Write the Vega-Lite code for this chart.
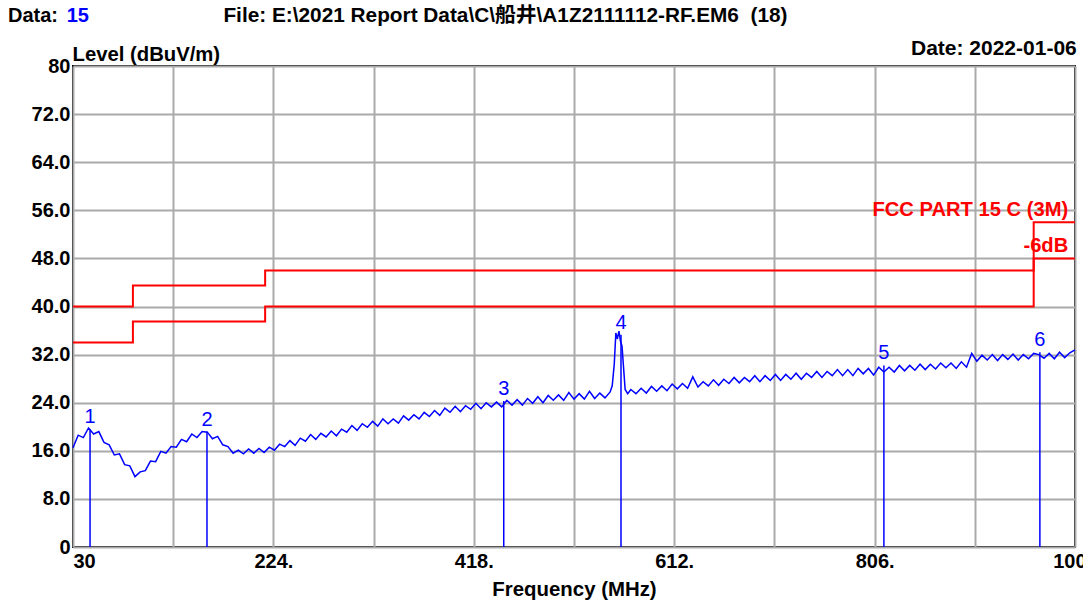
{
  "$schema": "https://vega.github.io/schema/vega-lite/v6.json",
  "width": 1002,
  "height": 481,
  "autosize": "none",
  "padding": {"left": 73, "top": 66, "right": 8, "bottom": 58},
  "background": "white",
  "config": {
    "view": {"stroke": "#000000", "strokeWidth": 2},
    "font": "Liberation Sans"
  },
  "datasets": {
    "trace": [
      {"freq": 30, "level": 16.5}, {"freq": 35, "level": 18.6}, {"freq": 40, "level": 18.2}, {"freq": 45, "level": 19.8},
      {"freq": 50, "level": 18.8}, {"freq": 55, "level": 19.2}, {"freq": 60, "level": 17.4}, {"freq": 65, "level": 17.0},
      {"freq": 70, "level": 15.3}, {"freq": 75, "level": 15.5}, {"freq": 80, "level": 13.7}, {"freq": 85, "level": 13.5},
      {"freq": 90, "level": 11.7}, {"freq": 95, "level": 12.5}, {"freq": 100, "level": 12.7}, {"freq": 105, "level": 14.3},
      {"freq": 110, "level": 14.2}, {"freq": 115, "level": 15.9}, {"freq": 120, "level": 15.6}, {"freq": 125, "level": 16.7},
      {"freq": 130, "level": 16.6}, {"freq": 135, "level": 17.9}, {"freq": 140, "level": 17.5}, {"freq": 145, "level": 18.8},
      {"freq": 150, "level": 18.2}, {"freq": 155, "level": 19.2}, {"freq": 160, "level": 19.1}, {"freq": 165, "level": 18.0},
      {"freq": 170, "level": 18.4}, {"freq": 175, "level": 17.0}, {"freq": 180, "level": 16.7}, {"freq": 185, "level": 15.6},
      {"freq": 190, "level": 16.1}, {"freq": 195, "level": 15.5}, {"freq": 200, "level": 16.3}, {"freq": 205, "level": 15.6},
      {"freq": 210, "level": 16.4}, {"freq": 215, "level": 15.7}, {"freq": 220, "level": 16.6}, {"freq": 225, "level": 16.1},
      {"freq": 230, "level": 17.1}, {"freq": 235, "level": 16.7}, {"freq": 240, "level": 17.7}, {"freq": 245, "level": 16.9},
      {"freq": 250, "level": 18.1}, {"freq": 255, "level": 17.6}, {"freq": 260, "level": 18.7}, {"freq": 265, "level": 17.9},
      {"freq": 270, "level": 18.9}, {"freq": 275, "level": 18.3}, {"freq": 280, "level": 19.3}, {"freq": 285, "level": 18.5},
      {"freq": 290, "level": 19.6}, {"freq": 295, "level": 19.1}, {"freq": 300, "level": 20.2}, {"freq": 305, "level": 19.4},
      {"freq": 310, "level": 20.5}, {"freq": 315, "level": 19.9}, {"freq": 320, "level": 20.9}, {"freq": 325, "level": 20.1},
      {"freq": 330, "level": 21.3}, {"freq": 335, "level": 20.5}, {"freq": 340, "level": 21.3}, {"freq": 345, "level": 20.6},
      {"freq": 350, "level": 21.8}, {"freq": 355, "level": 21.1}, {"freq": 360, "level": 22.0}, {"freq": 365, "level": 21.3},
      {"freq": 370, "level": 22.4}, {"freq": 375, "level": 21.7}, {"freq": 380, "level": 22.7}, {"freq": 385, "level": 21.9},
      {"freq": 390, "level": 23.1}, {"freq": 395, "level": 22.4}, {"freq": 400, "level": 23.4}, {"freq": 405, "level": 22.5},
      {"freq": 410, "level": 23.5}, {"freq": 415, "level": 22.9}, {"freq": 420, "level": 23.9}, {"freq": 425, "level": 23.0},
      {"freq": 430, "level": 24.0}, {"freq": 435, "level": 23.3}, {"freq": 440, "level": 24.1}, {"freq": 445, "level": 23.3},
      {"freq": 450, "level": 24.4}, {"freq": 455, "level": 23.6}, {"freq": 460, "level": 24.5}, {"freq": 465, "level": 23.6},
      {"freq": 470, "level": 24.7}, {"freq": 475, "level": 23.9}, {"freq": 480, "level": 25.0}, {"freq": 485, "level": 24.0},
      {"freq": 490, "level": 25.2}, {"freq": 495, "level": 24.4}, {"freq": 500, "level": 25.3}, {"freq": 505, "level": 24.4},
      {"freq": 510, "level": 25.7}, {"freq": 515, "level": 24.6}, {"freq": 520, "level": 25.5}, {"freq": 525, "level": 24.6},
      {"freq": 530, "level": 25.9}, {"freq": 535, "level": 24.7}, {"freq": 540, "level": 25.6}, {"freq": 545, "level": 24.8},
      {"freq": 550, "level": 25.8}, {"freq": 552, "level": 26.8}, {"freq": 554, "level": 30.5}, {"freq": 555.5, "level": 35.6},
      {"freq": 557, "level": 34.6}, {"freq": 558.5, "level": 35.9}, {"freq": 560, "level": 34.2}, {"freq": 561.5, "level": 33.4},
      {"freq": 563, "level": 29.8}, {"freq": 564.5, "level": 26.2}, {"freq": 567, "level": 25.5}, {"freq": 570, "level": 26.2},
      {"freq": 575, "level": 25.5}, {"freq": 580, "level": 26.4}, {"freq": 585, "level": 25.6}, {"freq": 590, "level": 26.7},
      {"freq": 595, "level": 25.9}, {"freq": 600, "level": 26.8}, {"freq": 605, "level": 26.0}, {"freq": 610, "level": 27.1},
      {"freq": 615, "level": 26.3}, {"freq": 620, "level": 27.2}, {"freq": 625, "level": 26.4}, {"freq": 630, "level": 28.3},
      {"freq": 635, "level": 26.6}, {"freq": 640, "level": 27.5}, {"freq": 645, "level": 26.8}, {"freq": 650, "level": 27.8},
      {"freq": 655, "level": 26.9}, {"freq": 660, "level": 27.9}, {"freq": 665, "level": 27.2}, {"freq": 670, "level": 28.2},
      {"freq": 675, "level": 27.3}, {"freq": 680, "level": 28.2}, {"freq": 685, "level": 27.5}, {"freq": 690, "level": 28.5},
      {"freq": 695, "level": 27.5}, {"freq": 700, "level": 28.5}, {"freq": 705, "level": 27.7}, {"freq": 710, "level": 28.7},
      {"freq": 715, "level": 27.7}, {"freq": 720, "level": 28.7}, {"freq": 725, "level": 27.9}, {"freq": 730, "level": 28.9},
      {"freq": 735, "level": 27.9}, {"freq": 740, "level": 28.9}, {"freq": 745, "level": 28.2}, {"freq": 750, "level": 29.2},
      {"freq": 755, "level": 28.2}, {"freq": 760, "level": 29.2}, {"freq": 765, "level": 28.5}, {"freq": 770, "level": 29.5},
      {"freq": 775, "level": 28.5}, {"freq": 780, "level": 29.5}, {"freq": 785, "level": 28.5}, {"freq": 790, "level": 29.7},
      {"freq": 795, "level": 28.8}, {"freq": 800, "level": 29.7}, {"freq": 805, "level": 28.6}, {"freq": 810, "level": 29.9},
      {"freq": 815, "level": 29.1}, {"freq": 820, "level": 29.9}, {"freq": 825, "level": 29.1}, {"freq": 830, "level": 30.2},
      {"freq": 835, "level": 29.3}, {"freq": 840, "level": 30.2}, {"freq": 845, "level": 29.4}, {"freq": 850, "level": 30.4},
      {"freq": 855, "level": 29.5}, {"freq": 860, "level": 30.4}, {"freq": 865, "level": 29.6}, {"freq": 870, "level": 30.6},
      {"freq": 875, "level": 29.8}, {"freq": 880, "level": 30.6}, {"freq": 885, "level": 29.7}, {"freq": 890, "level": 30.8},
      {"freq": 895, "level": 29.9}, {"freq": 900, "level": 32.2}, {"freq": 905, "level": 30.9}, {"freq": 910, "level": 31.9},
      {"freq": 915, "level": 31.1}, {"freq": 920, "level": 32.0}, {"freq": 925, "level": 31.0}, {"freq": 930, "level": 32.0},
      {"freq": 935, "level": 31.2}, {"freq": 940, "level": 32.1}, {"freq": 945, "level": 31.1}, {"freq": 950, "level": 32.0},
      {"freq": 955, "level": 31.3}, {"freq": 960, "level": 32.2}, {"freq": 965, "level": 32.0}, {"freq": 970, "level": 31.4},
      {"freq": 975, "level": 32.2}, {"freq": 980, "level": 31.3}, {"freq": 985, "level": 32.4}, {"freq": 990, "level": 31.5},
      {"freq": 995, "level": 32.3}, {"freq": 1000, "level": 32.8}
    ],
    "limits": [
      {"limit": "FCC PART 15 C (3M)", "freq": 30, "level": 40},
      {"limit": "FCC PART 15 C (3M)", "freq": 88, "level": 43.5},
      {"limit": "FCC PART 15 C (3M)", "freq": 216, "level": 46},
      {"limit": "FCC PART 15 C (3M)", "freq": 960, "level": 54},
      {"limit": "FCC PART 15 C (3M)", "freq": 1000, "level": 54},
      {"limit": "-6dB", "freq": 30, "level": 34},
      {"limit": "-6dB", "freq": 88, "level": 37.5},
      {"limit": "-6dB", "freq": 216, "level": 40},
      {"limit": "-6dB", "freq": 960, "level": 48},
      {"limit": "-6dB", "freq": 1000, "level": 48}
    ],
    "markers": [
      {"label": "1", "freq": 46.5, "level": 19.6},
      {"label": "2", "freq": 159.7, "level": 19.2},
      {"label": "3", "freq": 447, "level": 24.3},
      {"label": "4", "freq": 560.5, "level": 35.3},
      {"label": "5", "freq": 815, "level": 30.2},
      {"label": "6", "freq": 966, "level": 32.4}
    ]
  },
  "layer": [
    {
      "data": {"name": "limits"},
      "mark": {"type": "line", "interpolate": "step-after", "color": "#ff0000", "strokeWidth": 2},
      "encoding": {
        "x": {
          "field": "freq", "type": "quantitative",
          "scale": {"domain": [30, 1000], "nice": false, "zero": false},
          "axis": {
            "values": [30, 127, 224, 321, 418, 515, 612, 709, 806, 903, 1000],
            "labelExpr": "datum.value == 30 ? '30' : datum.value == 1000 ? '1000' : ((datum.value - 30) % 194 == 0 ? datum.value + '.' : '')",
            "labelFlush": false,
            "labelAlign": {"condition": {"test": "datum.value == 30", "value": "left"}, "value": "center"},
            "labelFont": "Liberation Sans", "labelFontWeight": "bold", "labelFontSize": 20, "labelColor": "#000000",
            "labelPadding": 4, "labelOverlap": false, "labelBound": false,
            "ticks": false, "domain": false,
            "grid": true, "gridColor": "#aaaaaa", "gridWidth": 2,
            "title": "Frequency (MHz)", "titleFont": "Liberation Sans", "titleFontSize": 20.4, "titleFontWeight": "bold",
            "titleColor": "#000000", "titleY": 48, "titleBaseline": "alphabetic"
          }
        },
        "y": {
          "field": "level", "type": "quantitative",
          "scale": {"domain": [0, 80], "nice": false, "zero": false},
          "axis": {
            "values": [0, 8, 16, 24, 32, 40, 48, 56, 64, 72, 80],
            "labelExpr": "datum.value == 0 || datum.value == 80 ? format(datum.value, 'd') : format(datum.value, '.1f')",
            "labelFont": "Liberation Sans", "labelFontWeight": "bold", "labelFontSize": 20, "labelColor": "#000000",
            "labelPadding": 3, "labelOverlap": false,
            "ticks": false, "domain": false,
            "grid": true, "gridColor": "#aaaaaa", "gridWidth": 2,
            "title": "Level (dBuV/m)", "titleFont": "Liberation Sans", "titleFontSize": 20.3, "titleFontWeight": "bold",
            "titleColor": "#000000", "titleAngle": 0, "titleAlign": "left", "titleBaseline": "alphabetic",
            "titleX": -1, "titleY": -6
          }
        },
        "detail": {"field": "limit", "type": "nominal"}
      }
    },
    {
      "data": {"name": "trace"},
      "mark": {"type": "line", "color": "#0000ff", "strokeWidth": 1.5},
      "encoding": {
        "x": {"field": "freq", "type": "quantitative"},
        "y": {"field": "level", "type": "quantitative"}
      }
    },
    {
      "data": {"name": "markers"},
      "mark": {"type": "rule", "color": "#0000ff", "strokeWidth": 1.5},
      "encoding": {
        "x": {"field": "freq", "type": "quantitative"},
        "y": {"field": "level", "type": "quantitative"},
        "y2": {"datum": 0}
      }
    },
    {
      "data": {"name": "markers"},
      "mark": {"type": "text", "color": "#0000ff", "font": "Liberation Sans", "fontSize": 20, "baseline": "bottom", "dy": -2},
      "encoding": {
        "x": {"field": "freq", "type": "quantitative"},
        "y": {"field": "level", "type": "quantitative"},
        "text": {"field": "label"}
      }
    },
    {
      "data": {"values": [{"t": "FCC PART 15 C (3M)"}]},
      "mark": {"type": "text", "color": "#ff0000", "font": "Liberation Sans", "fontWeight": "bold", "fontSize": 20.2, "align": "right", "baseline": "alphabetic"},
      "encoding": {"x": {"datum": 993.5}, "y": {"datum": 55.05}, "text": {"field": "t"}}
    },
    {
      "data": {"values": [{"t": "-6dB"}]},
      "mark": {"type": "text", "color": "#ff0000", "font": "Liberation Sans", "fontWeight": "bold", "fontSize": 20.2, "align": "right", "baseline": "alphabetic"},
      "encoding": {"x": {"datum": 993.5}, "y": {"datum": 49.1}, "text": {"field": "t"}}
    },
    {
      "data": {"values": [{"t": "Data:"}]},
      "mark": {"type": "text", "color": "#000000", "font": "Liberation Sans", "fontWeight": "bold", "fontSize": 20, "align": "left", "baseline": "alphabetic"},
      "encoding": {"x": {"datum": -32.9}, "y": {"datum": 87.3}, "text": {"field": "t"}}
    },
    {
      "data": {"values": [{"t": "15"}]},
      "mark": {"type": "text", "color": "#0000ff", "font": "Liberation Sans", "fontWeight": "bold", "fontSize": 20, "align": "left", "baseline": "alphabetic"},
      "encoding": {"x": {"datum": 23.9}, "y": {"datum": 87.3}, "text": {"field": "t"}}
    },
    {
      "data": {"values": [{"t": "File: E:\\2021 Report Data\\C\\船井\\A1Z2111112-RF.EM6 \u00a0(18)"}]},
      "mark": {"type": "text", "color": "#000000", "font": "Liberation Sans, Noto Sans CJK SC", "fontWeight": "bold", "fontSize": 20.8, "align": "center", "baseline": "alphabetic"},
      "encoding": {"x": {"datum": 448.6}, "y": {"datum": 87.3}, "text": {"field": "t"}}
    },
    {
      "data": {"values": [{"t": "Date: 2022-01-06"}]},
      "mark": {"type": "text", "color": "#000000", "font": "Liberation Sans", "fontWeight": "bold", "fontSize": 21, "align": "right", "baseline": "alphabetic"},
      "encoding": {"x": {"datum": 1001.7}, "y": {"datum": 81.83}, "text": {"field": "t"}}
    }
  ]
}
